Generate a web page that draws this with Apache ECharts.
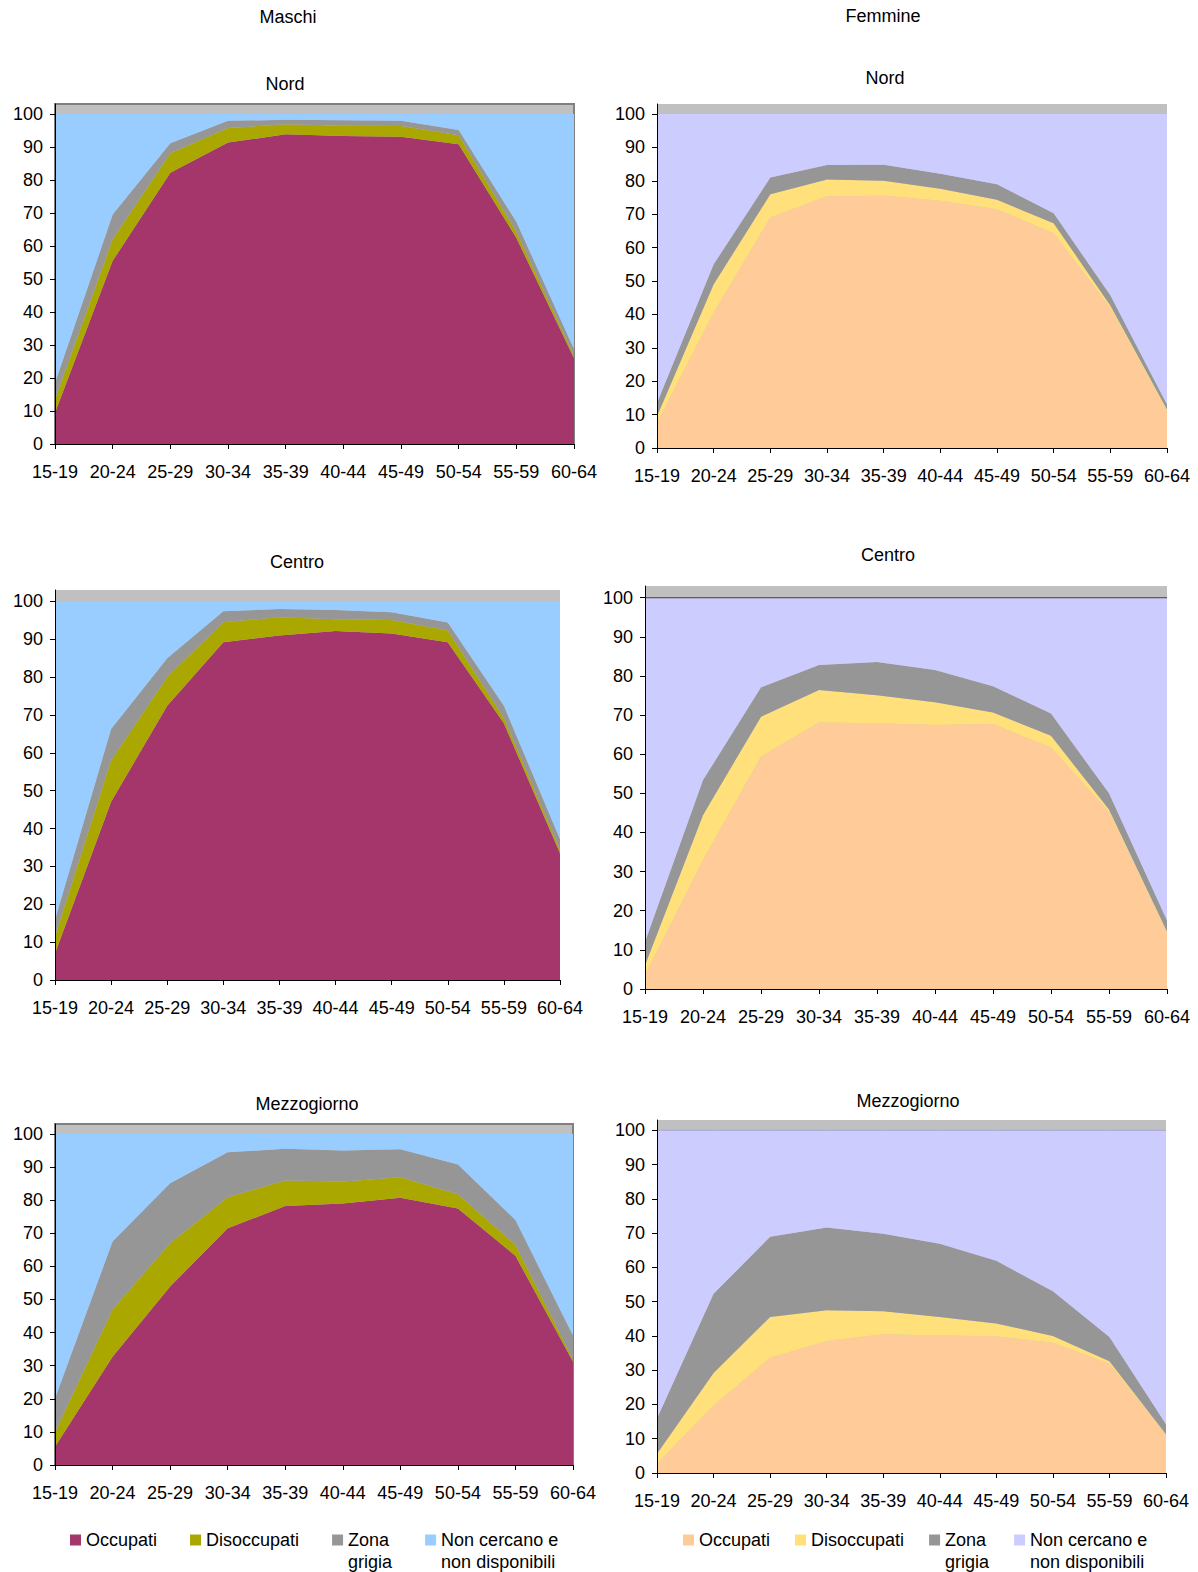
<!DOCTYPE html>
<html><head><meta charset="utf-8">
<script src="https://cdn.jsdelivr.net/npm/echarts@6/dist/echarts.min.js"></script>
<style>
html,body{margin:0;padding:0;background:#fff;width:1198px;height:1572px;overflow:hidden}
#left{position:absolute;left:0;top:0;width:600px;height:1572px}
#right{position:absolute;left:600px;top:0;width:598px;height:1572px}
</style>
</head><body>
<div id="left"></div><div id="right"></div>
<script>
const categories = ['15-19','20-24','25-29','30-34','35-39','40-44','45-49','50-54','55-59','60-64'];
const yTickValues = [0,10,20,30,40,50,60,70,80,90,100];
const seriesNames = ['Occupati','Disoccupati','Zona grigia','Non cercano e non disponibili'];
const legendLabels = {'Occupati':'Occupati','Disoccupati':'Disoccupati','Zona grigia':'\nZona\ngrigia','Non cercano e non disponibili':'\nNon cercano e\nnon disponibili'};

// Maschi - Nord
const mNordOccupati    = [9.5,55.5,82.2,91.3,93.8,93.3,93.1,90.8,62.5,26];
const mNordDisoccupati = [4,6.5,5.9,4.4,3.1,3.1,3.2,2.7,1.8,0.8];
const mNordZonaGrigia  = [5,7.5,3,2.2,1.3,1.7,1.6,1.6,3,2];
const mNordNonCercano  = [81.5,30.5,8.9,2.1,1.8,1.9,2.1,4.9,32.7,71.2];
// Maschi - Centro
const mCentroOccupati    = [7,47.1,72.4,89.2,91,92.2,91.5,89.2,67.8,33.5];
const mCentroDisoccupati = [4.5,10.9,7.6,5.3,4.8,3.1,3.6,3.1,1.4,0.9];
const mCentroZonaGrigia  = [4.4,8.3,5,2.9,2.2,2.4,2,2.1,3.2,2.8];
const mCentroNonCercano  = [84.1,33.7,15,2.6,2,2.3,2.9,5.6,27.6,62.8];
// Maschi - Mezzogiorno
const mSudOccupati    = [5.5,32.7,53.9,71.5,78.2,79,80.7,77.5,63.2,31.2];
const mSudDisoccupati = [4.4,14.3,13.1,9.4,7.7,6.6,6.2,4.3,3.3,0.7];
const mSudZonaGrigia  = [10.2,20.5,18.1,13.6,9.6,9.4,8.5,9,7.5,7.2];
const mSudNonCercano  = [79.9,32.5,14.9,5.5,4.5,5,4.6,9.2,26,60.9];
// Femmine - Nord
const fNordOccupati    = [7.5,40.5,69,75.4,75.5,74,71.5,64.3,42,11];
const fNordDisoccupati = [2,8.5,7,5,4.5,3.6,2.8,3,0.7,0.5];
const fNordZonaGrigia  = [4,6,5,4.3,4.8,4.5,4.7,3,3,1.5];
const fNordNonCercano  = [86.5,45,19,15.3,15.2,17.9,21,29.7,54.3,87];
// Femmine - Centro
const fCentroOccupati    = [3.6,33,59.4,68.1,67.9,67.5,67.7,61.7,45.3,14.4];
const fCentroDisoccupati = [2.5,11.5,10.2,8.3,7.2,5.8,3,3,0.6,0.3];
const fCentroZonaGrigia  = [6,8.9,7.5,6.4,8.5,8.2,6.7,5.7,4.1,2.8];
const fCentroNonCercano  = [87.9,46.6,22.9,17.2,16.4,18.5,22.6,29.6,50,82.5];
// Femmine - Mezzogiorno
const fSudOccupati    = [2.7,19.7,33.6,38.5,40.5,40.1,39.9,38,31.9,11];
const fSudDisoccupati = [2.9,9.5,11.9,9,6.7,5.4,3.7,2,0.7,0.3];
const fSudZonaGrigia  = [10.3,23.1,23.4,24.1,22.6,21.4,18.3,13,7.1,2.9];
const fSudNonCercano  = [84.1,47.7,31.1,28.4,30.2,33.1,38.1,47,60.3,85.8];

const FONT = '"Liberation Sans", Arial, sans-serif';
const FS = 18;
const maleColors = ['#a4366c','#aaa800','#969696','#99ccff'];
const femaleColors = ['#ffcc99','#ffe07a','#969696','#ccccff'];

function buildOption(cfg){
  const grid=[], xAxis=[], yAxis=[], series=[], graphic=[];
  graphic.push({type:'text', x:cfg.head.x, y:cfg.head.y, style:{text:cfg.head.text, font:FS+'px '+FONT, fill:'#000', textAlign:'center', textVerticalAlign:'middle'}});
  cfg.panels.forEach((p,i)=>{
    graphic.push({type:'text', x:p.tx, y:p.ty, style:{text:p.title, font:FS+'px '+FONT, fill:'#000', textAlign:'center', textVerticalAlign:'middle'}});
    grid.push({left:p.g[0], top:p.g[1], width:p.g[2], height:p.g[3], show:true, backgroundColor:'#c0c0c0',
      borderColor:'#808080', borderWidth:p.border?2:0});
    xAxis.push({type:'category', gridIndex:i, data:categories, boundaryGap:false,
      axisLine:{show:true, lineStyle:{color:'#000', width:1}},
      axisTick:{show:true, interval:0, length:5, lineStyle:{color:'#000'}},
      axisLabel:{interval:0, margin:19, fontSize:FS, color:'#000', fontFamily:FONT},
      splitLine:{show:false}, z:5});
    yAxis.push({type:'value', gridIndex:i, min:0, max:103, interval:10,
      axisLine:{show:true, lineStyle:{color:'#000', width:1}},
      axisTick:{show:true, length:5, lineStyle:{color:'#000'}, customValues:yTickValues},
      axisLabel:{margin:12, fontSize:FS, color:'#000', fontFamily:FONT, customValues:yTickValues},
      splitLine:{show:false}, z:5});
    p.data.forEach((d,k)=>{
      const topLine = (k===3 && p.topLine);
      series.push({type:'line', name:seriesNames[k], xAxisIndex:i, yAxisIndex:i, stack:'st'+i, data:d,
        symbol:'none', showSymbol:false, silent:true, animation:false,
        lineStyle: topLine ? {width:1, color:p.topLine} : {width:0, opacity:0},
        itemStyle:{color:cfg.colors[k]},
        areaStyle:{color:cfg.colors[k], opacity:1},
        emphasis:{disabled:true}});
    });
  });
  return {
    animation:false,
    grid, xAxis, yAxis, series, graphic,
    legend:{left:cfg.legend.left, top:cfg.legend.top, padding:0, orient:'horizontal', itemWidth:11, itemHeight:11,
      itemGap:cfg.legend.gap, icon:'rect', selectedMode:false, data:seriesNames,
      formatter:n=>legendLabels[n], itemStyle:{borderWidth:0},
      textStyle:{fontSize:FS, color:'#000', lineHeight:22, fontFamily:FONT}}
  };
}

const leftChart = echarts.init(document.getElementById('left'), null, {renderer:'svg'});
leftChart.setOption(buildOption({
  head:{text:'Maschi', x:288, y:17},
  colors:maleColors,
  legend:{left:70, top:1507, gap:33},
  panels:[
    {title:'Nord', tx:285, ty:84, g:[55,104,521,340], border:true,
     data:[mNordOccupati,mNordDisoccupati,mNordZonaGrigia,mNordNonCercano]},
    {title:'Centro', tx:297, ty:562, g:[55,590,505,390], border:false,
     data:[mCentroOccupati,mCentroDisoccupati,mCentroZonaGrigia,mCentroNonCercano]},
    {title:'Mezzogiorno', tx:307, ty:1104, g:[55,1124,518,341], border:true,
     data:[mSudOccupati,mSudDisoccupati,mSudZonaGrigia,mSudNonCercano]}
  ]
}));

const rightChart = echarts.init(document.getElementById('right'), null, {renderer:'svg'});
rightChart.setOption(buildOption({
  head:{text:'Femmine', x:283, y:16},
  colors:femaleColors,
  legend:{left:83, top:1507, gap:25},
  panels:[
    {title:'Nord', tx:285, ty:78, g:[57,104,510,344], border:false,
     data:[fNordOccupati,fNordDisoccupati,fNordZonaGrigia,fNordNonCercano]},
    {title:'Centro', tx:288, ty:555, g:[45,586,522,403], border:false, topLine:'#404040',
     data:[fCentroOccupati,fCentroDisoccupati,fCentroZonaGrigia,fCentroNonCercano]},
    {title:'Mezzogiorno', tx:308, ty:1101, g:[57,1120,509,353], border:false, topLine:'#a8a8d8',
     data:[fSudOccupati,fSudDisoccupati,fSudZonaGrigia,fSudNonCercano]}
  ]
}));
</script>
</body></html>
